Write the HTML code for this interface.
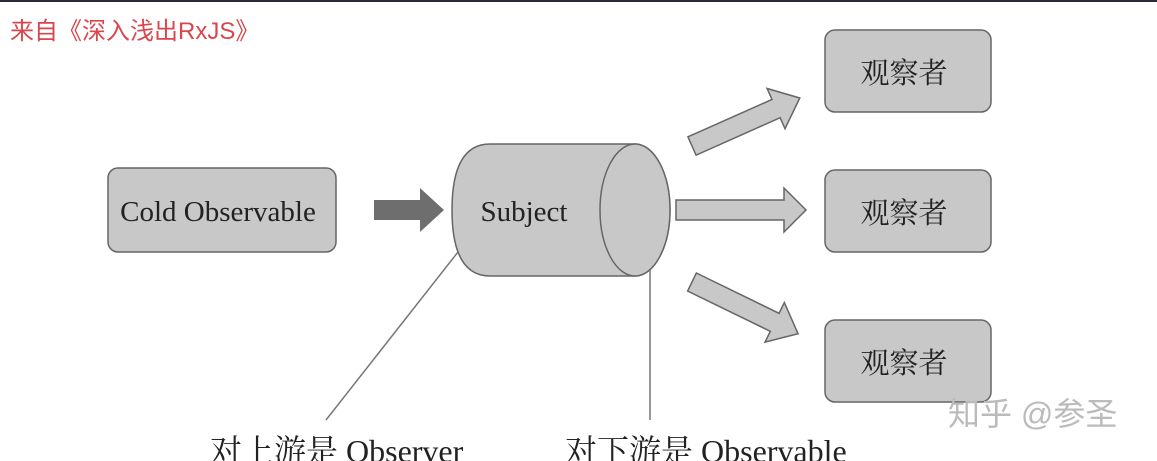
<!DOCTYPE html>
<html><head><meta charset="utf-8"><style>
html,body{margin:0;padding:0;background:#fff;width:1157px;height:461px;overflow:hidden}
svg{display:block}
</style></head><body>
<svg width="1157" height="461" viewBox="0 0 1157 461" xmlns="http://www.w3.org/2000/svg">
<rect x="0" y="0" width="1157" height="2" fill="#2a2a3a"/>
<text x="10" y="39" font-family="Liberation Sans, Noto Sans CJK SC, sans-serif" font-size="24" fill="#d9464c">来自《深入浅出RxJS》</text>
<g stroke="#666" stroke-width="1.5" fill="#c8c8c8">
<rect x="108" y="168" width="228" height="84" rx="10"/>
<rect x="825" y="30" width="166" height="82" rx="10"/>
<rect x="825" y="170" width="166" height="82" rx="10"/>
<rect x="825" y="320" width="166" height="82" rx="10"/>
<path d="M490 144 L635 144 A35 66 0 0 1 635 276 L490 276 Q452 276 452 210 Q452 144 490 144 Z"/>
<ellipse cx="635" cy="210" rx="35" ry="66"/>
<path d="M676 200 L784 200 L784 188 L806 210 L784 232 L784 220 L676 220 Z"/>
<path d="M0 -10 L92 -10 L92 -22 L118 0 L92 22 L92 10 L0 10 Z" transform="translate(692,146) rotate(-24)"/>
<path d="M0 -10 L92 -10 L92 -22 L118 0 L92 22 L92 10 L0 10 Z" transform="translate(692,282) rotate(26)"/>
</g>
<path d="M374 200 L420 200 L420 188 L444 210 L420 232 L420 220 L374 220 Z" fill="#6e6e6e"/>
<g stroke="#777" stroke-width="1.5">
<line x1="458" y1="252" x2="326" y2="420"/>
<line x1="650" y1="270" x2="650" y2="420"/>
</g>
<g font-family="Liberation Serif, Noto Serif CJK SC, serif" fill="#222" font-size="29">
<text x="218" y="221" text-anchor="middle">Cold Observable</text>
<text x="524" y="221" text-anchor="middle">Subject</text>
<text x="904" y="83" text-anchor="middle">观察者</text>
<text x="904" y="223" text-anchor="middle">观察者</text>
<text x="904" y="373" text-anchor="middle">观察者</text>
<text x="210" y="462" font-size="32">对上游是 Observer</text>
<text x="565" y="462" font-size="32">对下游是 Observable</text>
</g>
<text x="948" y="425" font-family="Liberation Sans, Noto Sans CJK SC, sans-serif" font-size="32" fill="#bbb">知乎 @参圣</text>
</svg>
</body></html>
